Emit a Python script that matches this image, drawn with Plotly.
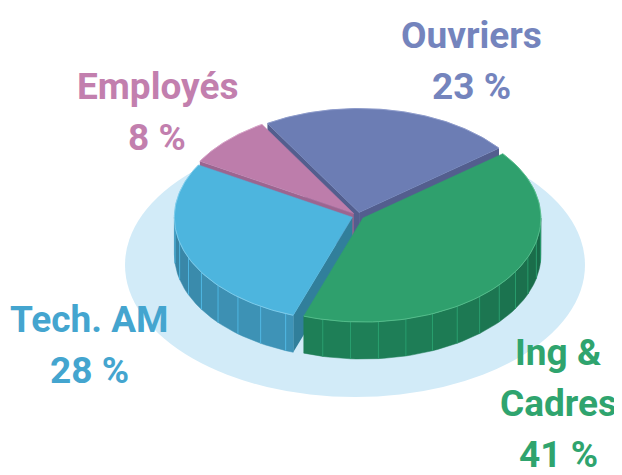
import numpy as np
import plotly.graph_objects as go

# ---- data ----
categories = ["Ouvriers", "Ing & Cadres", "Tech. AM", "Employés"]
values = [23, 41, 28, 8]
label_lines = [["Ouvriers"], ["Ing &", "Cadres"], ["Tech. AM"], ["Employés"]]

# ---- styles ----
top_colors = ["#6c7db4", "#2fa06d", "#4db5de", "#bd7dab"]
wall_colors = ["#56628f", "#1f8058", "#3f95b9", "#9c6590"]
cut_colors = ["#535e8e", "#1a6f4c", "#317f9b", "#9c6590"]
rim_colors = ["#8d9bcc", "#5cc391", "#86d0ee", "#d8a3c8"]
label_colors = ["#7484bd", "#2fa46e", "#44a5cf", "#c27fae"]
label_anchor = [(471, 35), (558, 352), (89, 319), (157, 86)]  # first line centre
LINE_STEP = 51

CX, CY, RX, RY = 358.0, 216.0, 178.0, 104.0
DEPTH = 37.0
EXPLODE = 6.0
START = -31.0
FACET = 9.0
PAGE_OFF = 8  # default body margin of the page

fig = go.Figure()


def rim(theta_deg, ox, oy, dz=0.0):
    t = np.radians(theta_deg)
    return CX + ox + RX * np.sin(t), CY + oy - RY * np.cos(t) + dz


def shade(hex_color, f):
    h = hex_color.lstrip("#")
    r, g, b = (int(h[i:i + 2], 16) for i in (0, 2, 4))
    return "rgb(%d,%d,%d)" % (min(255, r * f), min(255, g * f), min(255, b * f))


def add_poly(xs, ys, color, line_color=None, width=0):
    fig.add_trace(go.Scatter(
        x=list(xs) + [xs[0]], y=list(ys) + [ys[0]], mode="lines", fill="toself",
        fillcolor=color, line=dict(color=line_color or color, width=width),
        hoverinfo="skip", showlegend=False))


total = float(sum(values))
slices = []
a = START
for i, v in enumerate(values):
    span = 360.0 * v / total
    slices.append((i, a, a + span))
    a += span

# back-to-front order
order = sorted(slices, key=lambda s: -np.cos(np.radians((s[1] + s[2]) / 2)))

for i, a0, a1 in order:
    mid = np.radians((a0 + a1) / 2)
    ox = EXPLODE * np.sin(mid)
    oy = -EXPLODE * np.cos(mid) * RY / RX
    apx, apy = CX + ox, CY + oy

    # cut faces
    for ang, normal in ((a0, a0 - 90), (a1, a1 + 90)):
        if np.cos(np.radians(normal)) < 0:
            rx_, ry_ = rim(ang, ox, oy)
            add_poly([apx, rx_, rx_, apx], [apy, ry_, ry_ + DEPTH, apy + DEPTH],
                     cut_colors[i])

    # outer wall (visible between 90 and 270 degrees)
    lo, hi = a0 % 360, a0 % 360 + (a1 - a0)
    segs = []
    for base in (-360, 0, 360):
        s0, s1 = max(lo, 90 + base), min(hi, 270 + base)
        if s1 > s0:
            segs.append((s0, s1))
    sep_x, sep_y = [], []
    for s0, s1 in segs:
        edges = [s0] + [k * FACET + 4 for k in range(int(np.floor(s0 / FACET)) - 1,
                                                     int(np.ceil(s1 / FACET)) + 1)
                        if s0 < k * FACET + 4 < s1] + [s1]
        for e0, e1 in zip(edges[:-1], edges[1:]):
            th = np.linspace(e0, e1, 6)
            tx, ty = rim(th, ox, oy)
            bx, by = rim(th[::-1], ox, oy, DEPTH)
            f = 1 - 0.17 * (1 - np.cos(np.radians((e0 + e1) / 2 - 190)))
            add_poly(np.concatenate([tx, bx]), np.concatenate([ty, by]),
                     shade(wall_colors[i], f), shade(wall_colors[i], f), 0.5)
        for e in edges[1:-1]:
            x0, y0 = rim(e, ox, oy)
            sep_x += [x0, x0, None]
            sep_y += [y0, y0 + DEPTH, None]
    if sep_x:
        fig.add_trace(go.Scatter(x=sep_x, y=sep_y, mode="lines",
                                 line=dict(color=shade(wall_colors[i], 1.35), width=0.7),
                                 hoverinfo="skip", showlegend=False))

    # top face
    th = np.linspace(a0, a1, 80)
    tx, ty = rim(th, ox, oy)
    add_poly(np.concatenate([[apx], tx]), np.concatenate([[apy], ty]),
             top_colors[i], top_colors[i], 0.5)
    fig.add_trace(go.Scatter(x=tx, y=ty, mode="lines",
                             line=dict(color=rim_colors[i], width=0.8),
                             hoverinfo="skip", showlegend=False))

# labels (one annotation per line)
for i, cat in enumerate(categories):
    x, y = label_anchor[i]
    lines = label_lines[i] + ["%d %%" % values[i]]
    for k, txt in enumerate(lines):
        fig.add_annotation(
            x=x, y=y + k * LINE_STEP, xref="x", yref="y", showarrow=False,
            xanchor="center", yanchor="middle", text=txt,
            font=dict(family="Roboto", size=37, color=label_colors[i], weight="bold"))

# floor shadow ellipse
fig.add_shape(type="circle", xref="x", yref="y", x0=125, x1=585, y0=133, y1=397,
              fillcolor="#d2ebf8", line=dict(width=0), layer="below")

W, H = 622, 475
fig.update_layout(
    width=W - PAGE_OFF, height=H - PAGE_OFF, margin=dict(l=0, r=0, t=0, b=0),
    paper_bgcolor="white", plot_bgcolor="white",
    xaxis=dict(range=[PAGE_OFF, W], visible=False, fixedrange=True),
    yaxis=dict(range=[H, PAGE_OFF], visible=False, fixedrange=True),
)

fig.write_html("out.html")
